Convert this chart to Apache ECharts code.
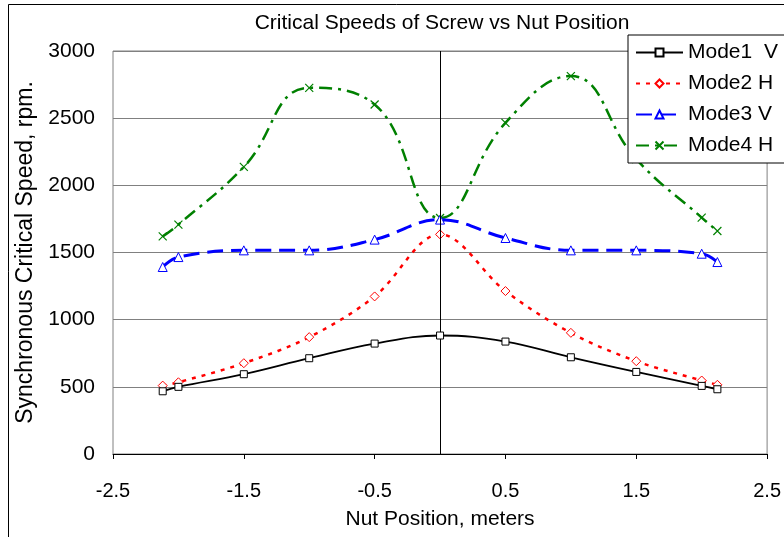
<!DOCTYPE html>
<html>
<head>
<meta charset="utf-8">
<script src="https://cdn.jsdelivr.net/npm/echarts@6/dist/echarts.min.js"></script>
<style>
  html, body { margin: 0; padding: 0; background: #fff; }
  #chart { width: 784px; height: 537px; }
</style>
</head>
<body>
<div id="chart"></div>
<script>
// nut positions (m)
const positions = [-2.12, -2, -1.5, -1, -0.5, 0, 0.5, 1, 1.5, 2, 2.12]

// critical speeds, rpm
const mode1V = [467, 500, 594, 713, 822, 882, 837, 720, 611, 507, 482]
const mode2H = [509, 534, 676, 870, 1173, 1635, 1213, 902, 691, 547, 515]
const mode3V = [1392, 1466, 1516, 1516, 1596, 1745, 1608, 1516, 1516, 1491, 1429]
const mode4H = [1620, 1708, 2137, 2726, 2602, 1757, 2465, 2813, 2195, 1760, 1660]

const seriesNames = ['Mode1  V', 'Mode2 H', 'Mode3 V', 'Mode4 H']

const pairs = (ys) => positions.map((x, i) => [x, ys[i]])

const FONT = '"Liberation Sans", Arial, sans-serif'
const crossPath = 'path://M0,0L10,10M10,0L0,10'

const chart = echarts.init(document.getElementById('chart'))

const option = {
  animation: false,
  backgroundColor: '#fff',
  textStyle: {fontFamily: FONT},
  title: {
    text: 'Critical Speeds of Screw vs Nut Position',
    left: 437,
    top: 8,
    textAlign: 'center',
    textStyle: {fontSize: 21, fontWeight: 'normal', color: '#000', fontFamily: FONT}
  },
  graphic: [{
    type: 'rect',
    shape: {x: 8.5, y: 4.5, width: 900, height: 700},
    style: {fill: 'none', stroke: '#000', lineWidth: 1},
    z: -1
  }],
  legend: {
    data: seriesNames,
    orient: 'vertical',
    left: 628,
    top: 35,
    padding: [7, 40, 7, 7],
    itemWidth: 47,
    itemHeight: 10,
    itemGap: 10,
    backgroundColor: '#fff',
    borderColor: '#000',
    borderWidth: 1,
    borderRadius: 0,
    textStyle: {fontSize: 21, color: '#000', fontFamily: FONT, lineHeight: 20}
  },
  grid: {
    left: 113,
    right: 11,
    top: 51,
    bottom: 83,
    show: true,
    borderColor: '#808080',
    borderWidth: 1
  },
  xAxis: {
    type: 'value',
    min: -2.5,
    max: 2.5,
    interval: 1,
    name: 'Nut Position, meters',
    nameLocation: 'middle',
    nameGap: 55,
    nameTextStyle: {fontSize: 21, color: '#000', fontFamily: FONT},
    axisLine: {show: true, onZero: false, lineStyle: {color: '#000', width: 1}},
    axisTick: {show: true, length: 5, lineStyle: {color: '#000'}},
    axisLabel: {fontSize: 20, color: '#000', margin: 27, fontFamily: FONT},
    splitLine: {show: false}
  },
  yAxis: {
    type: 'value',
    min: 0,
    max: 3000,
    interval: 500,
    name: 'Synchronous Critical Speed, rpm.',
    nameLocation: 'middle',
    nameGap: 75,
    nameTextStyle: {fontSize: 23, color: '#000', fontFamily: FONT},
    axisLine: {show: false},
    axisTick: {show: false},
    axisLabel: {fontSize: 21, color: '#000', margin: 18, fontFamily: FONT, formatter: (v) => String(v)},
    splitLine: {show: true, lineStyle: {color: '#808080', width: 1}}
  },
  series: [
    {
      name: seriesNames[0],
      type: 'line',
      data: pairs(mode1V),
      smooth: 0.4,
      symbol: 'rect',
      symbolSize: 7,
      lineStyle: {color: '#000', width: 1.8, type: 'solid'},
      itemStyle: {color: '#fff', borderColor: '#000', borderWidth: 1},
      z: 5,
      markLine: {
        silent: true,
        symbol: 'none',
        label: {show: false},
        lineStyle: {color: '#000', width: 1, type: 'solid'},
        data: [{xAxis: 0}]
      }
    },
    {
      name: seriesNames[1],
      type: 'line',
      data: pairs(mode2H),
      smooth: 0.35,
      symbol: 'diamond',
      symbolSize: 9,
      lineStyle: {color: '#ff0000', width: 2.5, type: [4, 6]},
      itemStyle: {color: '#fff', borderColor: '#ff0000', borderWidth: 1},
      z: 4
    },
    {
      name: seriesNames[2],
      type: 'line',
      data: pairs(mode3V),
      smooth: 0.4,
      symbol: 'triangle',
      symbolSize: 9,
      lineStyle: {color: '#0000ff', width: 3, type: [16, 8]},
      itemStyle: {color: '#fff', borderColor: '#0000ff', borderWidth: 1},
      z: 3
    },
    {
      name: seriesNames[3],
      type: 'line',
      data: pairs(mode4H),
      smooth: 0.45,
      symbol: crossPath,
      symbolSize: 8,
      lineStyle: {color: '#008000', width: 2.5, type: [13, 6, 3, 6]},
      itemStyle: {color: 'none', borderColor: '#008000', borderWidth: 1.2},
      z: 2
    }
  ]
}

chart.setOption(option)
</script>
</body>
</html>
